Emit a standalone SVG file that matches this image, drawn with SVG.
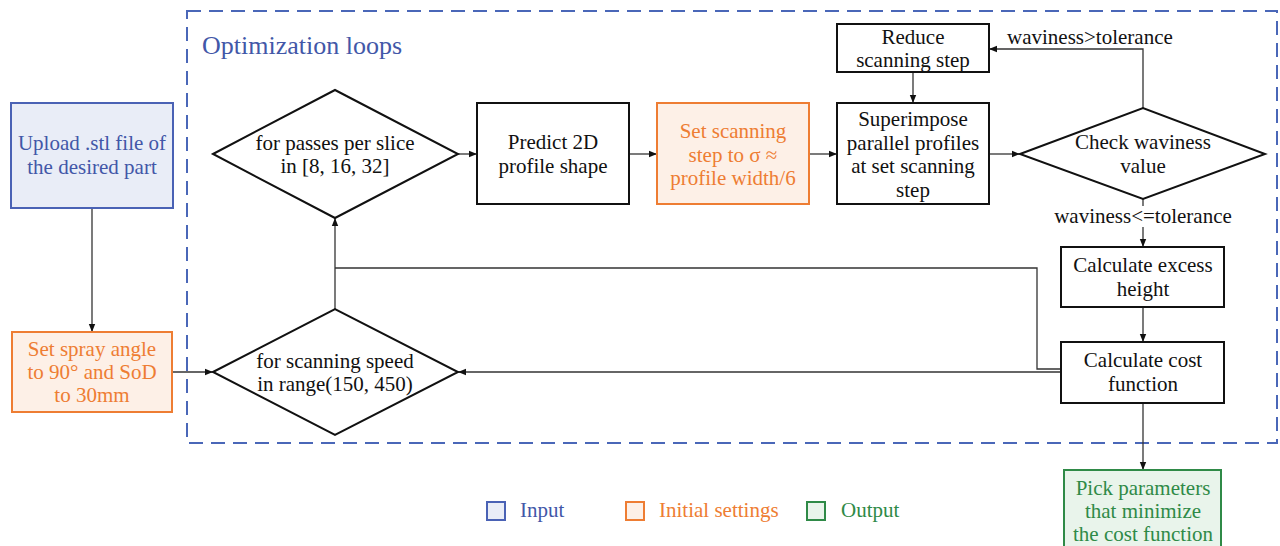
<svg xmlns="http://www.w3.org/2000/svg" width="1280" height="546" viewBox="0 0 1280 546">
<defs>
<style>
text{font-family:"Liberation Serif","Times New Roman",serif;font-size:21px;text-anchor:middle;dominant-baseline:central;fill:#111}
.box{fill:#fff;stroke:#111;stroke-width:2}
.in{fill:#e9edf7;stroke:#4a62b5;stroke-width:2}
.init{fill:#fdf0e7;stroke:#ee7d33;stroke-width:2}
.out{fill:#e9f4eb;stroke:#2f8a47;stroke-width:2}
.tin{fill:#4257a8}
.tinit{fill:#ee7d33}
.tout{fill:#2f8a47}
.conn{fill:none;stroke:#333;stroke-width:1.3}
</style>
<marker id="ah" viewBox="0 0 10 10" refX="10" refY="5" markerWidth="8" markerHeight="8" markerUnits="userSpaceOnUse" orient="auto">
<path d="M0,1 L10,5 L0,9 z" fill="#111"/>
</marker>
</defs>
<rect width="1280" height="546" fill="#fff"/>

<g id="container">
<rect x="187" y="11" width="1090" height="432" fill="none" stroke="#4a67b8" stroke-width="2" stroke-dasharray="14,8"/>
<text x="202" y="45" style="text-anchor:start;font-size:26px;fill:#4257a8">Optimization loops</text>
</g>

<g id="connectors">
<line class="conn" x1="92" y1="208" x2="92" y2="332" marker-end="url(#ah)"/>
<line class="conn" x1="172" y1="372" x2="213" y2="372" marker-end="url(#ah)"/>
<line class="conn" x1="335" y1="309" x2="335" y2="218" marker-end="url(#ah)"/>
<polyline class="conn" points="1061,369 1037,369 1037,268 335,268"/>
<line class="conn" x1="1061" y1="372" x2="458" y2="372" marker-end="url(#ah)"/>
<line class="conn" x1="458" y1="154" x2="477" y2="154" marker-end="url(#ah)"/>
<line class="conn" x1="629" y1="154" x2="657" y2="154" marker-end="url(#ah)"/>
<line class="conn" x1="809" y1="154" x2="837" y2="154" marker-end="url(#ah)"/>
<line class="conn" x1="989" y1="154" x2="1020" y2="154" marker-end="url(#ah)"/>
<line class="conn" x1="913" y1="72" x2="913" y2="103" marker-end="url(#ah)"/>
<polyline class="conn" points="1143,108 1143,49 989,49" marker-end="url(#ah)"/>
<text x="1007" y="37" style="text-anchor:start">waviness&gt;tolerance</text>
<line class="conn" x1="1143" y1="199" x2="1143" y2="247" marker-end="url(#ah)"/>
<rect x="1052" y="206" width="182" height="21" fill="#fff"/>
<text x="1143" y="216">waviness&lt;=tolerance</text>
<line class="conn" x1="1143" y1="307" x2="1143" y2="342" marker-end="url(#ah)"/>
<line class="conn" x1="1143" y1="403" x2="1143" y2="470" marker-end="url(#ah)"/>
</g>

<g id="upload">
<rect class="in" x="11" y="103" width="162" height="105"/>
<text class="tin" x="92" y="143">Upload .stl file of</text>
<text class="tin" x="92" y="167">the desired part</text>
</g>

<g id="spray">
<rect class="init" x="12" y="332" width="160" height="80"/>
<text class="tinit" x="92" y="349">Set spray angle</text>
<text class="tinit" x="92" y="372">to 90° and SoD</text>
<text class="tinit" x="92" y="395">to 30mm</text>
</g>

<g id="passes">
<polygon class="box" points="213,154 335,90 458,154 335,218"/>
<text x="335" y="143">for passes per slice</text>
<text x="335" y="166">in [8, 16, 32]</text>
</g>

<g id="speed">
<polygon class="box" points="213,372 335,309 458,372 335,435"/>
<text x="335" y="361">for scanning speed</text>
<text x="335" y="384">in range(150, 450)</text>
</g>

<g id="predict">
<rect class="box" x="477" y="103" width="152" height="101"/>
<text x="553" y="142">Predict 2D</text>
<text x="553" y="166">profile shape</text>
</g>

<g id="setstep">
<rect class="init" x="657" y="103" width="152" height="101"/>
<text class="tinit" x="733" y="131">Set scanning</text>
<text class="tinit" x="733" y="155">step to σ ≈</text>
<text class="tinit" x="733" y="178">profile width/6</text>
</g>

<g id="superimpose">
<rect class="box" x="837" y="103" width="152" height="101"/>
<text x="913" y="119">Superimpose</text>
<text x="913" y="143">parallel profiles</text>
<text x="913" y="166">at set scanning</text>
<text x="913" y="190">step</text>
</g>

<g id="reduce">
<rect class="box" x="837" y="24" width="152" height="48"/>
<text x="913" y="37">Reduce</text>
<text x="913" y="60">scanning step</text>
</g>

<g id="check">
<polygon class="box" points="1020,154 1143,108 1265,154 1143,199"/>
<text x="1143" y="142">Check waviness</text>
<text x="1143" y="166">value</text>
</g>

<g id="excess">
<rect class="box" x="1061" y="247" width="163" height="60"/>
<text x="1143" y="265">Calculate excess</text>
<text x="1143" y="289">height</text>
</g>

<g id="cost">
<rect class="box" x="1061" y="342" width="163" height="61"/>
<text x="1143" y="360">Calculate cost</text>
<text x="1143" y="384">function</text>
</g>

<g id="output">
<rect class="out" x="1064" y="470" width="157" height="90"/>
<text class="tout" x="1143" y="488">Pick parameters</text>
<text class="tout" x="1143" y="511">that minimize</text>
<text class="tout" x="1143" y="534">the cost function</text>
</g>

<g id="legend">
<rect class="in" x="487" y="502" width="18" height="18" stroke-width="1.5"/>
<text class="tin" x="520" y="510" style="text-anchor:start">Input</text>
<rect class="init" x="626" y="502" width="18" height="18" stroke-width="1.5"/>
<text class="tinit" x="659" y="510" style="text-anchor:start">Initial settings</text>
<rect class="out" x="807" y="502" width="18" height="18" stroke-width="1.5"/>
<text class="tout" x="841" y="510" style="text-anchor:start">Output</text>
</g>
</svg>
